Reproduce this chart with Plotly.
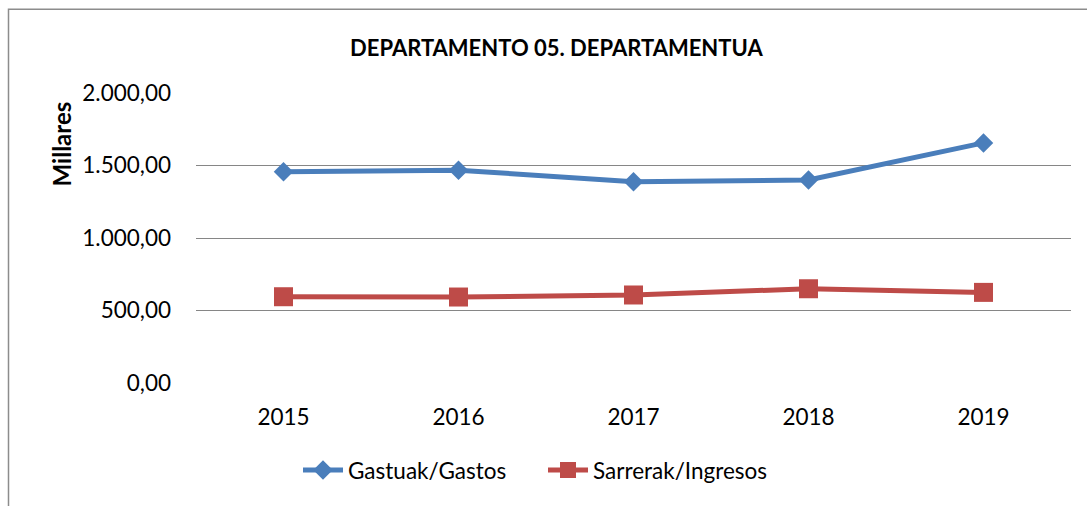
import plotly.graph_objects as go

years = ["2015", "2016", "2017", "2018", "2019"]
gastos = [1457, 1468, 1388, 1400, 1656]
ingresos = [595, 593, 607, 650, 625]
y_ticks = [0, 500, 1000, 1500, 2000]
y_tick_labels = ["0,00", "500,00", "1.000,00", "1.500,00", "2.000,00"]

W, H = 1087, 506
L, R, T, B = 196, 16, 93, 122.5
pw, ph = W - L - R, H - T - B


def px_x(x):
    return (x - L) / pw


def px_y(y):
    return (H - B - y) / ph


FONT = "Lato"

fig = go.Figure()
fig.add_trace(go.Scatter(
    x=years, y=gastos, name="Gastuak/Gastos", mode="lines+markers",
    line=dict(color="#4A7EBB", width=5),
    marker=dict(symbol="diamond", size=15, color="#4A7EBB"),
))
fig.add_trace(go.Scatter(
    x=years, y=ingresos, name="Sarrerak/Ingresos", mode="lines+markers",
    line=dict(color="#BE4B48", width=5),
    marker=dict(symbol="square", size=19, color="#BE4B48"),
))

fig.update_layout(
    width=W, height=H,
    margin=dict(l=L, r=R, t=T, b=B, autoexpand=False),
    paper_bgcolor="white", plot_bgcolor="white",
    font=dict(family=FONT, size=22.5, color="#000000"),
    showlegend=True,
    legend=dict(
        orientation="h", x=px_x(298), y=px_y(471),
        xanchor="left", yanchor="middle",
        font=dict(family=FONT, size=22.5, color="#000000"),
        itemwidth=40, tracegroupgap=0, entrywidth=190,
    ),
    xaxis=dict(
        type="category", range=[-0.5, 4.5],
        showgrid=False, showline=False, zeroline=False, ticks="",
        ticklabelstandoff=18,
    ),
    yaxis=dict(
        range=[0, 2000], tickvals=y_ticks, ticktext=y_tick_labels,
        showgrid=True, gridcolor="#868686", gridwidth=1.4,
        zeroline=False, showline=False, ticks="",
        ticklabelstandoff=24,
    ),
    annotations=[
        dict(text="<b>DEPARTAMENTO 05. DEPARTAMENTUA</b>",
             x=px_x(556.5), y=px_y(47.5), xref="paper", yref="paper",
             xanchor="center", yanchor="middle", showarrow=False,
             font=dict(family=FONT, size=22, color="#000000")),
        dict(text="<b>Millares</b>", textangle=-90,
             x=px_x(61), y=px_y(144.5), xref="paper", yref="paper",
             xanchor="center", yanchor="middle", showarrow=False,
             font=dict(family=FONT, size=24, color="#000000")),
    ],
    shapes=[
        dict(type="rect", xref="paper", yref="paper",
             x0=px_x(8.5), x1=px_x(1095), y0=px_y(9.2), y1=px_y(515),
             line=dict(color="#8C8C8C", width=1.5), fillcolor="rgba(0,0,0,0)",
             layer="below"),
    ],
)

fig.write_html("out.html")
